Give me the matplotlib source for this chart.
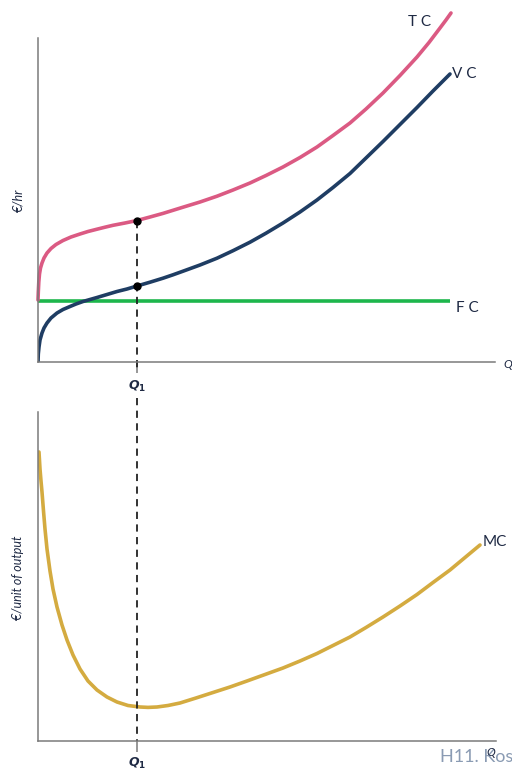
import numpy as np
import matplotlib
matplotlib.use("Agg")
import matplotlib.pyplot as plt

plt.rcParams['font.family'] = ['Lato', 'DejaVu Sans']
plt.rcParams['mathtext.fontset'] = 'custom'
plt.rcParams['mathtext.it'] = 'DejaVu Sans:italic:bold'
plt.rcParams['mathtext.rm'] = 'DejaVu Sans:bold'

# quantity / cost values (arbitrary units)
tc_q = [0, 0.3, 0.8, 1.5, 2.5, 4, 6, 9, 13, 18, 25, 33, 42, 50, 59, 67, 75, 87, 99, 112,
        125, 135, 145, 162, 179, 195, 212, 228, 245, 262, 279, 295, 312, 328, 345, 362,
        379, 391, 402, 408, 413]
tc_c = [62, 70, 80, 88, 94, 99, 104, 109, 113.5, 117.5, 121.5, 125, 128, 130.5, 132.8,
        134.8, 136.7, 139, 141.5, 145, 148.6, 151.7, 154.8, 160, 165.8, 172, 179, 186.5,
        195, 204.5, 215, 226.5, 239, 253, 269, 286.5, 305, 319.5, 334, 342, 349]

vc_q = [0, 0.3, 1, 2, 4, 6, 9, 13, 19, 25, 32, 38, 45, 52, 59, 69, 79, 89, 99, 112, 125,
        135, 145, 162, 179, 195, 212, 228, 245, 262, 279, 295, 312, 328, 345, 362, 379,
        395, 412]
vc_c = [0, 8, 15, 22, 29, 34, 39, 44, 49, 52.5, 55.5, 58, 60.5, 62.5, 64.5, 67.5, 70.5,
        73, 76, 79.8, 83.8, 87.2, 90.8, 97, 103.8, 111.3, 119.8, 128.8, 139, 150, 162,
        174.5, 188.5, 204, 220.5, 237.5, 254.5, 271, 288]

fc_q = [0, 412]
fc_c = [61, 61]

mc_q = [1, 2, 3, 4, 5.5, 7, 9, 12, 15, 19, 24, 29, 35, 42, 50, 59, 69, 79, 90, 102, 110,
        119, 130, 142, 158, 175, 192, 209, 227, 245, 262, 279, 295, 312, 328, 345, 362,
        379, 395, 412, 427, 442]
mc_c = [289, 272, 260, 249, 230, 212, 192, 170, 152, 134, 116, 101, 86, 72, 60, 51, 44,
        39, 35.5, 34, 33.6, 34, 35.5, 38, 43, 48.5, 54, 60, 66.5, 73, 80, 87.5, 95.5, 104,
        113.5, 124, 135, 146.5, 158.5, 171, 183.5, 196]

q1 = 99
tc_q1 = 141.5
vc_q1 = 76

c_tc = '#db5a83'
c_vc = '#1f3d63'
c_fc = '#1db64c'
c_mc = '#d4ab40'
c_ax = '#7a7a7a'
c_txt = '#1f2a44'

W, H = 512, 771
fig = plt.figure(figsize=(W / 100, H / 100), dpi=100)

# top panel: origin at pixel (38, 362)
ax1 = fig.add_axes([38 / W, (H - 362) / H, 457 / W, 357 / H])
ax1.set_xlim(0, 457)
ax1.set_ylim(0, 357)
# bottom panel: origin at pixel (38, 741)
ax2 = fig.add_axes([38 / W, (H - 741) / H, 458 / W, 329 / H])
ax2.set_xlim(0, 458)
ax2.set_ylim(0, 329)

for ax in (ax1, ax2):
    ax.patch.set_alpha(0)
    for s in ('top', 'right'):
        ax.spines[s].set_visible(False)
    for s in ('left', 'bottom'):
        ax.spines[s].set_color(c_ax)
        ax.spines[s].set_linewidth(1.1)
    ax.set_yticks([])
    ax.set_xticks([q1])
    ax.set_xticklabels([r'$Q_1$'])
    ax.tick_params(axis='x', length=8, width=1.1, color=c_ax, pad=4,
                   labelsize=9, labelcolor=c_txt)
ax2.tick_params(axis='x', pad=2.5)
ax1.spines['left'].set_bounds(0, 324)

lw = 2.6
style = dict(lw=lw, solid_capstyle='round', solid_joinstyle='round')
ax1.plot(fc_q, fc_c, color=c_fc, lw=lw, solid_capstyle='butt')
ax1.plot(vc_q, vc_c, color=c_vc, **style)
ax1.plot(tc_q, tc_c, color=c_tc, clip_on=False, **style)
ax1.plot([q1, q1], [tc_q1, -8], color='#222222', lw=1.3, ls=(0, (4, 3)), clip_on=False)
ax1.plot([q1, q1], [tc_q1, vc_q1], 'o', color='black', ms=5)

ax1.text(370, 340, 'T C', fontsize=11, color=c_txt, ha='left', va='center')
ax1.text(414, 288, 'V C', fontsize=11, color=c_txt, ha='left', va='center')
ax1.text(418, 54, 'F C', fontsize=11, color=c_txt, ha='left', va='center')
ax1.text(465, -3, 'Q', fontsize=8.5, style='italic', color=c_txt, ha='left', va='center')
ax1.text(-20, 162, '€/hr', fontsize=9, style='italic', color=c_txt, rotation=90,
         ha='center', va='center')

ax2.plot(mc_q, mc_c, color=c_mc, **style)
ax2.plot([q1, q1], [343, 0], color='#222222', lw=1.3, ls=(0, (4, 3)), clip_on=False)
ax2.text(445, 199, 'MC', fontsize=11, color=c_txt, ha='left', va='center')
ax2.text(-20, 163, '€/unit of output', fontsize=9, style='italic', color=c_txt,
         rotation=90, ha='center', va='center')

fig.text(440 / W, 1 - 757 / H, 'H11. Kos', fontsize=13, color='#8a9bb3',
         ha='left', va='center')
fig.text(486 / W, 1 - 752 / H, 'Q', fontsize=8.5, style='italic', color=c_txt,
         ha='left', va='center')

fig.savefig('out.png', dpi=100)
